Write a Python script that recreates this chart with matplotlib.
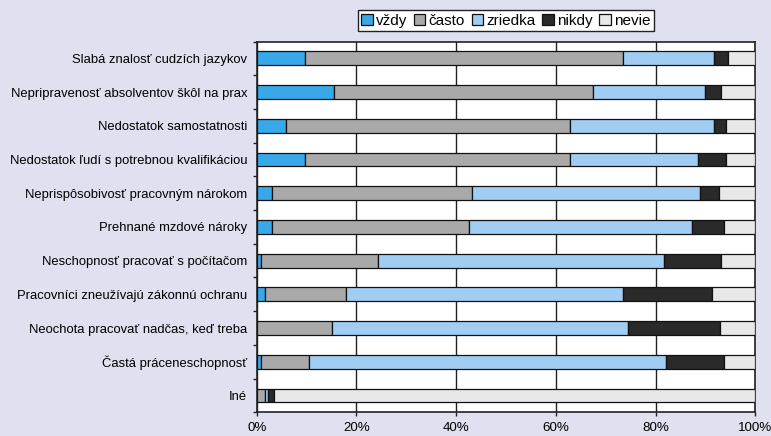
import numpy as np
import matplotlib
matplotlib.use("Agg")
import matplotlib.pyplot as plt
from matplotlib.ticker import FixedLocator, PercentFormatter

plt.rcParams["font.family"] = ["Liberation Sans", "DejaVu Sans"]

categories = [
    "Slabá znalosť cudzích jazykov",
    "Nepripravenosť absolventov škôl na prax",
    "Nedostatok samostatnosti",
    "Nedostatok ľudí s potrebnou kvalifikáciou",
    "Neprispôsobivosť pracovným nárokom",
    "Prehnané mzdové nároky",
    "Neschopnosť pracovať s počítačom",
    "Pracovníci zneužívajú zákonnú ochranu",
    "Neochota pracovať nadčas, keď treba",
    "Častá práceneschopnosť",
    "Iné",
]
series = ["vždy", "často", "zriedka", "nikdy", "nevie"]
vzdy    = [9.6, 15.5, 5.9, 9.6, 3.1, 3.1, 0.9, 1.7, 0.0, 0.9, 0.0]
casto   = [63.8, 51.9, 56.9, 53.2, 40.0, 39.5, 23.4, 16.3, 15.1, 9.6, 1.7]
zriedka = [18.3, 22.6, 28.9, 25.6, 45.8, 44.6, 57.3, 55.4, 59.3, 71.6, 0.6]
nikdy   = [2.8, 3.1, 2.4, 5.7, 3.9, 6.5, 11.5, 18.0, 18.5, 11.6, 1.2]
nevie   = [5.5, 6.9, 5.9, 5.9, 7.2, 6.3, 6.9, 8.6, 7.1, 6.3, 96.5]

colors = ["#38a8e8", "#a9a9a9", "#a2cdf2", "#2a2a2a", "#e8e8e8"]
bg = "#dfe1f1"

fig = plt.figure(figsize=(7.71, 4.36), dpi=100, facecolor=bg)
ax = fig.add_axes([0.333, 0.0544, 0.6467, 0.8504])
ax.set_facecolor("white")

y = np.arange(len(categories))
left = np.zeros(len(categories))
for name, vals, col in zip(series, [vzdy, casto, zriedka, nikdy, nevie], colors):
    vals = np.array(vals)
    ax.barh(y, vals, left=left, height=0.41, color=col, edgecolor="#111111",
            linewidth=0.9, label=name, zorder=3)
    left += vals

ax.set_xlim(0, 100)
ax.set_ylim(len(categories) - 0.5, -0.5)
ax.xaxis.set_major_locator(FixedLocator([0, 20, 40, 60, 80, 100]))
ax.xaxis.set_major_formatter(PercentFormatter(decimals=0))
ax.grid(axis="x", color="#222222", linewidth=1.0, zorder=0)
ax.set_axisbelow(True)

ax.set_yticks(y)
ax.set_yticklabels(categories, fontsize=9.4)
ax.yaxis.set_minor_locator(FixedLocator(np.arange(len(categories) + 1) - 0.5))
ax.tick_params(axis="y", which="major", length=0, pad=7)
ax.tick_params(axis="y", which="minor", length=3, width=1, color="#222222")
ax.tick_params(axis="x", length=3, width=1, color="#222222", labelsize=9.6, pad=4)

for s in ax.spines.values():
    s.set_color("#222222")
    s.set_linewidth(1.2)

leg = fig.legend(loc="upper center", bbox_to_anchor=(0.656, 0.976), ncol=5,
                 fontsize=11, frameon=True, fancybox=False, edgecolor="#222222",
                 facecolor="white", framealpha=1, handlelength=0.75,
                 handleheight=0.75, handletextpad=0.2, columnspacing=0.45,
                 borderpad=0.22, borderaxespad=0)
leg.get_frame().set_linewidth(1.0)

fig.savefig("out.png", dpi=100, facecolor=bg)
